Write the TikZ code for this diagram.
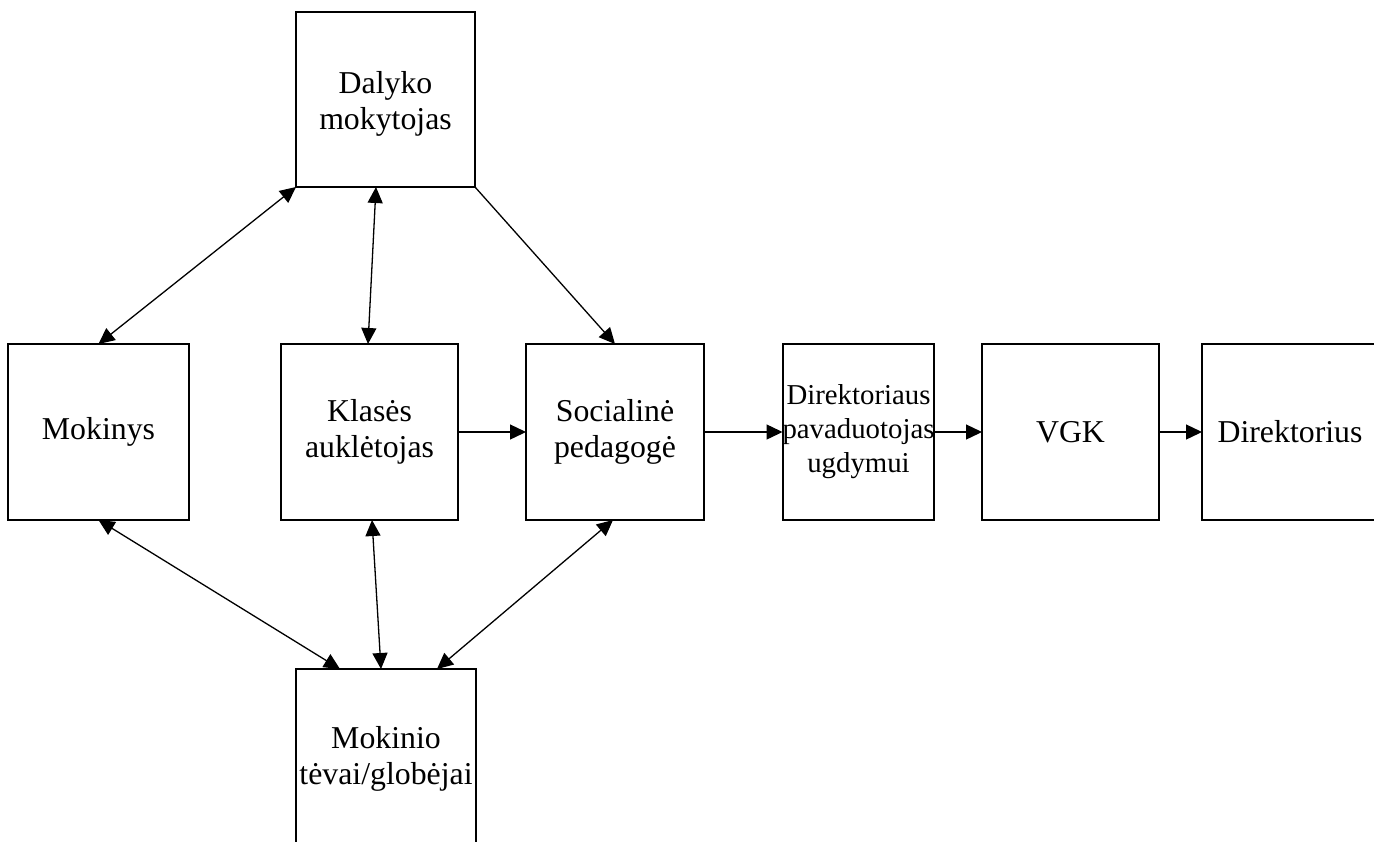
\documentclass[tikz,border=0pt]{standalone}
\usepackage{fontspec}
\setmainfont{Liberation Serif}
\usetikzlibrary{arrows.meta}
\begin{document}
\begin{tikzpicture}[x=0.5pt,y=-0.5pt,
  box/.style={draw,line width=1pt,rectangle,inner sep=0pt,outer sep=0pt,align=center,
    font=\fontsize{15.9}{18}\selectfont},
  conn/.style={line width=0.65pt,-{Triangle[length=8pt,width=7.5pt]}},
  dconn/.style={line width=0.65pt,{Triangle[length=8pt,width=7.5pt]}-{Triangle[length=8pt,width=7.5pt]}}]
\useasboundingbox (0,0) rectangle (1374,841);
\clip (0,0) rectangle (1374,841);
\fill[white] (0,0) rectangle (1374,841);
\node[box,minimum width=89.5pt,minimum height=87.5pt] (D) at (385.5,99.5) {};
\node[font=\fontsize{15.9}{18}\selectfont,align=center] (Dt) at (385.5,103.5) {Dalyko\\mokytojas};
\node[box,minimum width=90.5pt,minimum height=88pt] (M) at (98.5,432) {Mokinys};
\node[box,minimum width=88.5pt,minimum height=88pt] (K) at (369.5,432) {Klasės\\auklėtojas};
\node[box,minimum width=89pt,minimum height=88pt] (S) at (615,432) {Socialinė\\pedagogė};
\node[box,minimum width=75.5pt,minimum height=88pt,font=\fontsize{14.4}{17}\selectfont] (P) at (858.5,432) {Direktoriaus\\pavaduotojas\\ugdymui};
\node[box,minimum width=88.5pt,minimum height=88pt] (V) at (1070.5,432) {VGK};
\node[box,minimum width=88pt,minimum height=88pt] (R) at (1290,432) {Direktorius};
\node[box,minimum width=90pt,minimum height=88pt] (T) at (386,757) {};
\node[font=\fontsize{15.9}{18}\selectfont,align=center] (Tt) at (386,759) {Mokinio\\tėvai/globėjai};
\draw[dconn] (M.north) -- (D.south west);
\draw[dconn] ([xshift=-4.75pt]D.south) -- ([xshift=-0.75pt]K.north);
\draw[conn] (D.south east) -- (S.north);
\draw[conn] (K.east) -- (S.west);
\draw[conn] (S.east) -- (P.west);
\draw[conn] (P.east) -- (V.west);
\draw[conn] (V.east) -- (R.west);
\draw[dconn] (M.south) -- ([xshift=-23pt]T.north);
\draw[dconn] ([xshift=1.25pt]K.south) -- ([xshift=-2.5pt]T.north);
\draw[dconn] ([xshift=-1pt]S.south) -- ([xshift=25.5pt]T.north);
\end{tikzpicture}
\end{document}
